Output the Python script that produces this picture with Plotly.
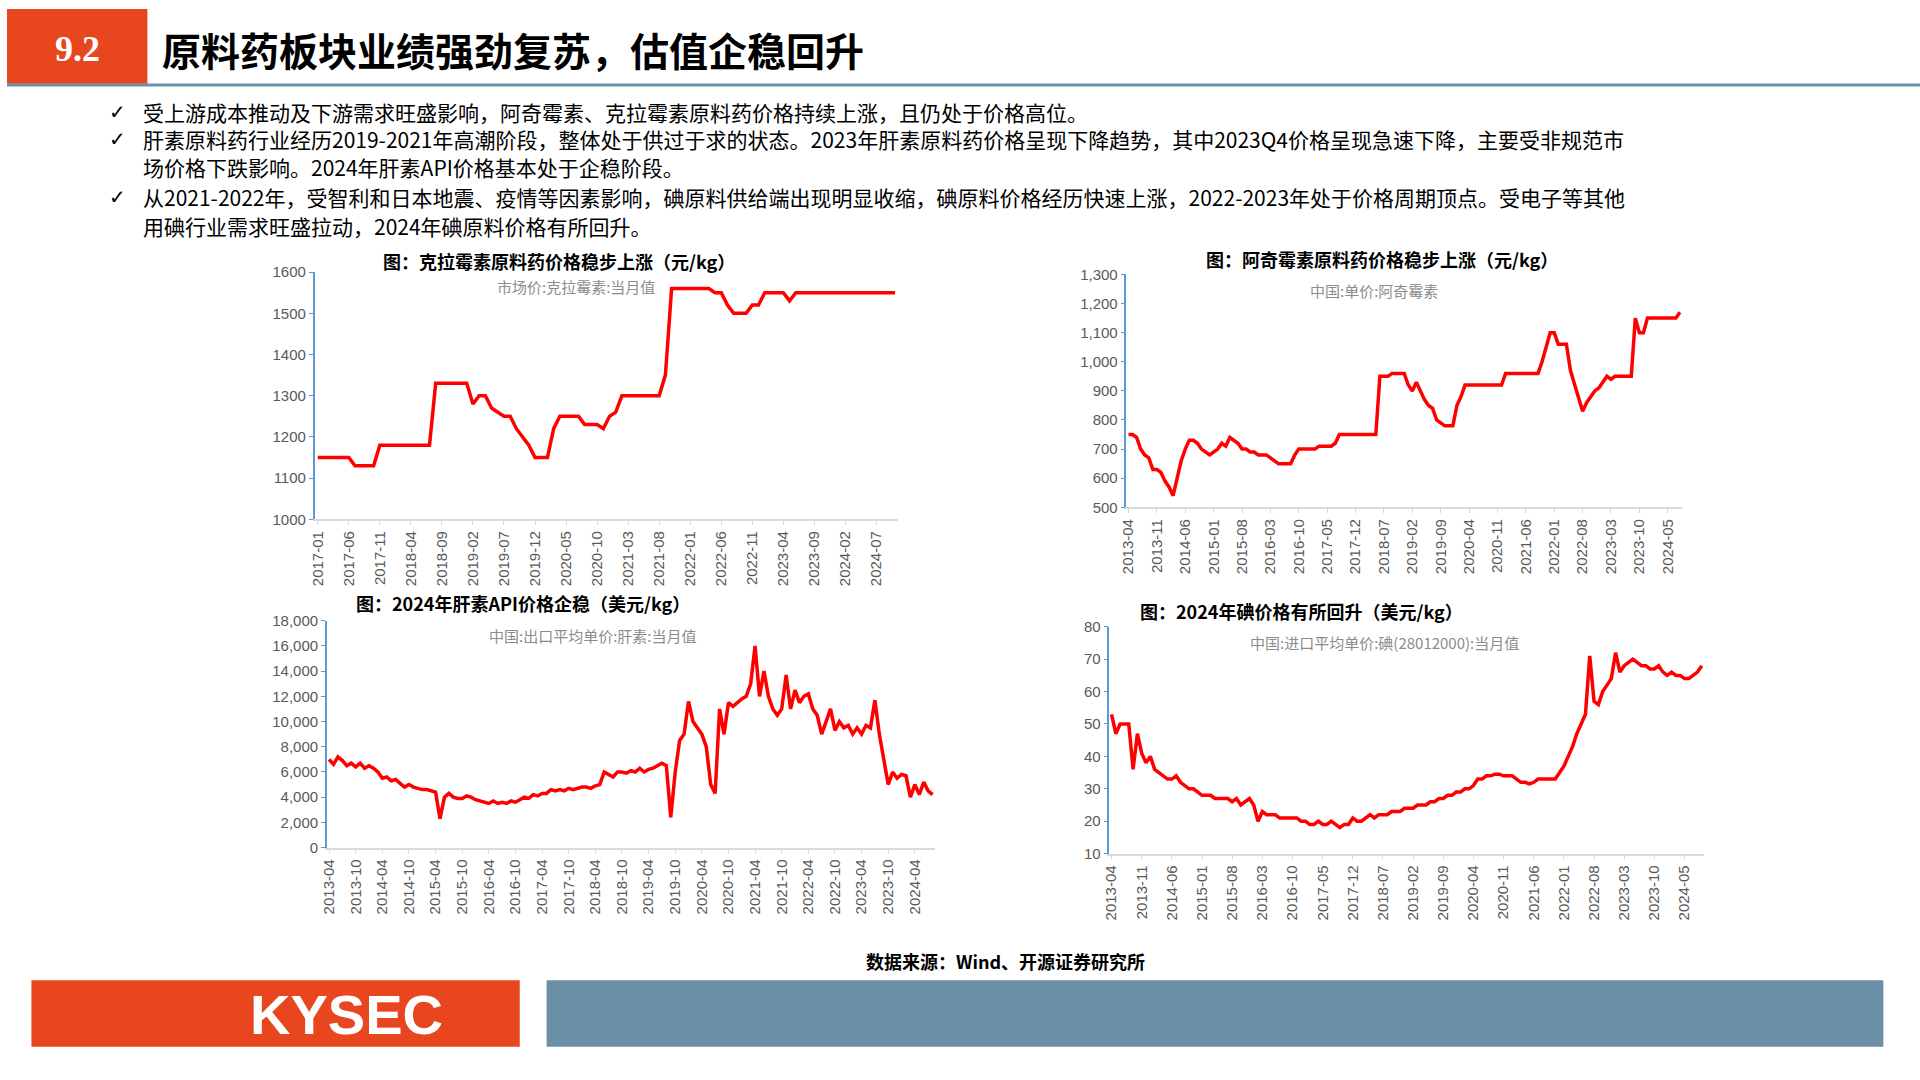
import plotly.graph_objects as go

def months(y, m, n):
    out = []
    for i in range(n):
        yy = y + (m - 1 + i) // 12
        mm = (m - 1 + i) % 12 + 1
        out.append(f"{yy}-{mm:02d}")
    return out

clar_vals = [1150]*6 + [1130]*4 + [1180]*9 + [1330]*6 + [
    1280,1300,1300,1270,1260,1250,1250,1220,1200,1180,1150,1150,1150,1220,1250,1250,1250,1250,1230,1230,1230,1220,1250,1260,1300] + [1300]*6 + [
    1350,1560] + [1560]*6 + [1550,1550,1520,1500,1500,1500,1520,1520,1550] + [1550]*3 + [1530,1550] + [1550]*16
clar_x = months(2017, 1, len(clar_vals))

azi_vals = [750,750,740,700,680,670,630,630,620,590,570,540,600,
    660,700,730,730,720,700,690,680,690,700,720,710,740,730,720,700,700,
    690,690,680,680,680,670,660,650,650,650,650,680,700,700,700,700,700,710,710,710,710,720,750] + [750]*9 + [
    950,950,950,960,960,960,960,920,900,930,900,870,850,
    840,800,790,780,780,780,850,880,920] + [920]*9 + [960]*9 + [
    1000,1050,1100,1100,1060,1060,1060,970,920,880,830,
    860,880,900,910,930,950,940,950,950,950,950,950,
    1150,1100,1100,1150,1150,1150,1150,1150,1150,1150,1150,1170]
azi_x = months(2013, 4, len(azi_vals))

hep_vals = [7000,6600,7200,6900,6500,6700,6400,6700,6300,6500,6300,6000,5500,
    5600,5300,5400,5100,4800,5000,4800,4700,4600,4600,4500,4400,
    2300,4000,4300,4000,3900,3900,4100,4000,3800,3700,
    3600,3500,3700,3500,3600,3500,3700,3600,3800,4000,3900,4200,4100,4300,4300,
    4600,4500,4600,4500,4700,4600,4700,4800,4800,4700,4900,5000,
    6000,5800,5600,6000,6000,5900,6100,6000,6300,6000,6200,6300,6500,6700,6500,
    2400,6000,8500,9000,11600,10000,9500,9000,8000,5000,4300,11000,9000,11500,
    11200,11500,11800,12000,13000,16000,12000,14000,12000,11000,10500,11000,13700,11000,
    12500,11500,12000,12200,11000,10500,9000,10000,11000,9300,10000,9500,9700,9000,9500,9000,9700,
    9500,11700,9000,7000,5000,6000,5500,5800,5700,4000,5000,4200,5200,4500,4200]
hep_x = months(2013, 4, len(hep_vals))

iod_vals = [53,47,50,50,50,36,47,41,38,40,36,35,
    34,33,33,34,32,31,30,30,29,28,28,28,
    27,27,27,27,26,27,25,26,27,25,20,23,
    22,22,22,21,21,21,21,21,20,20,19,19,20,19,19,20,
    19,18,19,19,21,20,20,21,22,21,22,22,22,23,23,23,
    24,24,24,25,25,25,26,26,27,27,28,28,29,29,30,30,
    31,33,33,34,34,34.5,34.5,34,34,34,33,32,32,31.5,32,33,
    33,33,33,33,35,37,40,43,47,50,53,71,
    57,56,60,62,64,72,66,68,69,70,69,68,68,67,
    67,68,66,65,66,65,65,64,64,65,66,68]
iod_x = months(2013, 4, len(iod_vals))

W, H = 1567.0, 881.0
def px(x): return x / W
def py(y): return 1 - y / H

RED = "#FF0000"
ORANGE = "#E8461E"
SLATE = "#6B8FA6"
CJK = "Noto Sans CJK SC"

fig = go.Figure()
charts = [
    (clar_x, clar_vals, "", (252, 730, 218, 423), [1000, 1600], 100, "d", 5),
    (azi_x, azi_vals, "2", (917, 1372, 220, 413), [500, 1300], 100, ",d", 7),
    (hep_x, hep_vals, "3", (262, 760, 507, 695), [0, 18000], 2000, ",d", 6),
    (iod_x, iod_vals, "4", (903, 1390, 512, 700), [10, 80], 10, "d", 7),
]
for xs, ys, sfx, (x0, x1, y0, y1), yr, dt, fmt, step in charts:
    fig.add_trace(go.Scatter(x=xs, y=ys, mode="lines", line=dict(color=RED, width=3.5),
                             xaxis="x" + sfx, yaxis="y" + sfx, showlegend=False))
    ticks = xs[::step]
    fig.layout["xaxis" + sfx] = dict(domain=[px(x0), px(x1)], anchor="y" + sfx, type="category",
        tickvals=ticks, ticktext=ticks, tickangle=-90, showgrid=False, showline=True,
        linecolor="#D9D9D9", linewidth=1.5, ticks="outside", ticklen=4, tickcolor="#D9D9D9",
        tickfont=dict(family="Liberation Sans", size=15, color="#595959"),
        range=[-0.5, len(xs) - 0.5])
    fig.layout["yaxis" + sfx] = dict(domain=[py(y1), py(y0)], anchor="x" + sfx, range=yr, dtick=dt,
        tickformat=fmt, showgrid=False, showline=True, linecolor="#5B9BD5", linewidth=1.5,
        ticks="outside", ticklen=4, tickcolor="#5B9BD5", zeroline=False,
        tickfont=dict(family="Liberation Sans", size=15, color="#595959"))

ann = []
def text(x, y, t, size, color="black", bold=False, xanchor="left", family=CJK):
    ann.append(dict(x=px(x), y=py(y), xref="paper", yref="paper", text=("<b>%s</b>" % t) if bold else t,
                    showarrow=False, xanchor=xanchor, yanchor="middle", align="left",
                    font=dict(family=family, size=size, color=color)))

text(58, 33, "9.2", 36, "white", True, "center", "Liberation Serif")
text(125, 33, "原料药板块业绩强劲复苏，估值企稳回升", 39, "black", True)
bullets = [
    (85, "受上游成本推动及下游需求旺盛影响，阿奇霉素、克拉霉素原料药价格持续上涨，且仍处于价格高位。", True),
    (108, "肝素原料药行业经历2019-2021年高潮阶段，整体处于供过于求的状态。2023年肝素原料药价格呈现下降趋势，其中2023Q4价格呈现急速下降，主要受非规范市", True),
    (131, "场价格下跌影响。2024年肝素API价格基本处于企稳阶段。", False),
    (156, "从2021-2022年，受智利和日本地震、疫情等因素影响，碘原料供给端出现明显收缩，碘原料价格经历快速上涨，2022-2023年处于价格周期顶点。受电子等其他", True),
    (180, "用碘行业需求旺盛拉动，2024年碘原料价格有所回升。", False),
]
for y, t, chk in bullets:
    if chk:
        text(82, y, "✓", 20, "black", True, family="DejaVu Sans")
    text(110, y, t, 21)

text(452, 209, "图：克拉霉素原料药价格稳步上涨（元/kg）", 18, bold=True, xanchor="center")
text(466, 230, "市场价:克拉霉素:当月值", 15, "#8C8C8C", xanchor="center")
text(1126, 207, "图：阿奇霉素原料药价格稳步上涨（元/kg）", 18, bold=True, xanchor="center")
text(1120, 233, "中国:单价:阿奇霉素", 15, "#8C8C8C", xanchor="center")
text(423, 492, "图：2024年肝素API价格企稳（美元/kg）", 18, bold=True, xanchor="center")
text(480, 519, "中国:出口平均单价:肝素:当月值", 15, "#8C8C8C", xanchor="center")
text(1060, 499, "图：2024年碘价格有所回升（美元/kg）", 18, bold=True, xanchor="center")
text(1128, 525, "中国:进口平均单价:碘(28012000):当月值", 15, "#8C8C8C", xanchor="center")
text(818, 789, "数据来源：Wind、开源证券研究所", 18, bold=True, xanchor="center")
text(278, 833, "KYSEC", 56, "white", True, "center", "Liberation Sans")

shapes = [
    dict(type="rect", xref="paper", yref="paper", x0=0, x1=px(115), y0=py(62), y1=1, fillcolor=ORANGE, line_width=0),
    dict(type="line", xref="paper", yref="paper", x0=0, x1=1, y0=py(63), y1=py(63), line=dict(color=SLATE, width=3)),
    dict(type="rect", xref="paper", yref="paper", x0=px(20), x1=px(420), y0=py(860), y1=py(805), fillcolor=ORANGE, line_width=0),
    dict(type="rect", xref="paper", yref="paper", x0=px(442), x1=px(1537), y0=py(860), y1=py(805), fillcolor=SLATE, line_width=0),
]
fig.update_layout(width=1920, height=1080, margin=dict(l=0, r=0, t=0, b=0),
                  paper_bgcolor="white", plot_bgcolor="white", annotations=ann, shapes=shapes)
fig.write_html("out.html", config={"displayModeBar": False},
               post_script="document.body.style.margin='0';")
